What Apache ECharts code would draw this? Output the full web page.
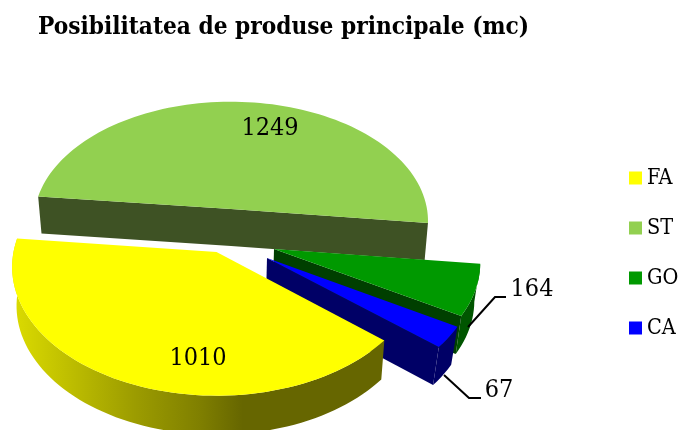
<!DOCTYPE html>
<html>
<head>
<meta charset="utf-8">
<style>html,body{margin:0;padding:0;background:#fff}#c{width:681px;height:430px}</style>
<script src="https://cdn.jsdelivr.net/npm/echarts@6/dist/echarts.min.js"></script>
</head>
<body>
<div id="c"></div>
<script>
var titleText = 'Posibilitatea de produse principale (mc)';
var categories = ['FA', 'ST', 'GO', 'CA'];
var values = [1010, 1249, 164, 67];
var topColors = ['#ffff00', '#92d050', '#009900', '#0000ff'];

// First slice starts here (degrees, clockwise on screen, 0 = right of the disc)
var startAngle = 40.1;
var serifFont = '"DejaVu Serif Condensed","DejaVu Serif",serif';

// Projection of each exploded slice: apex, disc radii, perspective, wall height, wall taper
var projection = {
  FA: { ax: 216.5, ay: 252, A: 203, B: 127, k: 0.116, H: 39, s: 0.98 },
  ST: { ax: 231, ay: 209, A: 196, B: 118, k: 0.10, H: 37, s: 0.983 },
  GO: { ax: 274, ay: 249, A: 205, B: 125, k: 0.11, H: 38, s: 0.976 },
  CA: { ax: 267, ay: 258, A: 208, B: 128, k: 0.115, H: 38, s: 0.972 }
};
var vanishX = 233;
var labelPos = { FA: [198, 358], ST: [270, 128], GO: [532, 289], CA: [499, 390] };
var leaders = {
  GO: [[468, 327], [495, 297], [506, 297]],
  CA: [[444, 375], [469, 398], [481, 398]]
};
var drawOrder = { ST: 1, GO: 2, CA: 3, FA: 4 };

var total = values.reduce(function (a, b) { return a + b; }, 0);

function angleRange(index, value) {
  var before = 0;
  for (var i = 0; i < index; i++) before += values[i];
  var a0 = startAngle + before / total * 360;
  return [a0, a0 + value / total * 360];
}
function pt(p, deg, lower) {
  var t = deg * Math.PI / 180;
  var w = 1 - p.k * Math.sin(t);
  var x = p.ax + p.A * Math.cos(t) / w;
  var y = p.ay + p.B * Math.sin(t) / w;
  return lower ? [vanishX + (x - vanishX) * p.s, y + p.H] : [x, y];
}
function apex(p, lower) {
  return lower ? [vanishX + (p.ax - vanishX) * p.s, p.ay + p.H] : [p.ax, p.ay];
}
function arc(p, a0, a1, lower) {
  var pts = [], n = Math.max(2, Math.ceil(Math.abs(a1 - a0) / 2));
  for (var i = 0; i <= n; i++) pts.push(pt(p, a0 + (a1 - a0) * i / n, lower));
  return pts;
}
function poly(points, fill) {
  return { type: 'polygon', shape: { points: points }, style: { fill: fill } };
}
function outerWall(p, a0, a1, fill) {
  return poly(arc(p, a0, a1, false).concat(arc(p, a1, a0, true)), fill);
}
function cutWall(p, deg, fill) {
  return poly([apex(p, false), pt(p, deg, false), pt(p, deg, true), apex(p, true)], fill);
}
function valueLabel(name, value) {
  return {
    type: 'text', x: labelPos[name][0], y: labelPos[name][1],
    style: { text: String(value), fill: '#000', fontFamily: serifFont, fontSize: 25, align: 'center', verticalAlign: 'middle' }
  };
}
var faWall = new echarts.graphic.LinearGradient(0, 0, 1, 0, [
  { offset: 0, color: '#dcdc00' }, { offset: 0.2, color: '#b5b500' },
  { offset: 0.33, color: '#9c9c00' }, { offset: 0.5, color: '#808000' },
  { offset: 0.62, color: '#666600' }, { offset: 1, color: '#666600' }
]);

function shapesFor(name, index, value) {
  var p = projection[name], r = angleRange(index, value), a0 = r[0], a1 = r[1], kids = [];
  var top = poly([apex(p, false)].concat(arc(p, a0, a1, false)), topColors[index]);
  if (name === 'FA') kids.push(outerWall(p, a0, a1, faWall));
  if (name === 'ST') { kids.push(cutWall(p, a0, '#3e5224')); kids.push(cutWall(p, a1, '#3e5224')); }
  if (name === 'GO') { kids.push(outerWall(p, a0, a1, '#005500')); kids.push(cutWall(p, a1, '#003f00')); }
  if (name === 'CA') { kids.push(outerWall(p, a0, a1, '#000066')); kids.push(cutWall(p, a1, '#000066')); }
  kids.push(top);
  if (leaders[name]) {
    kids.push({ type: 'polyline', shape: { points: leaders[name] }, style: { fill: 'none', stroke: '#000', lineWidth: 2 } });
  }
  kids.push(valueLabel(name, value));
  return { type: 'group', children: kids };
}

var series = categories.map(function (name, i) {
  return {
    name: name,
    type: 'custom',
    coordinateSystem: 'none',
    z: drawOrder[name],
    silent: true,
    itemStyle: { color: topColors[i] },
    data: [values[i]],
    renderItem: function (params, api) { return shapesFor(name, i, api.value(0)); }
  };
});

var chart = echarts.init(document.getElementById('c'), null, { renderer: 'canvas' });
chart.setOption({
  animation: false,
  backgroundColor: '#fff',
  title: {
    text: titleText, left: 38, top: 16, padding: 0,
    textStyle: { fontFamily: serifFont, fontWeight: 'bold', fontSize: 24.2, color: '#000' }
  },
  legend: {
    data: categories, orient: 'vertical', left: 629, top: 167, padding: 0,
    icon: 'rect', itemWidth: 13, itemHeight: 13, itemGap: 28,
    selectedMode: false,
    textStyle: { fontFamily: serifFont, fontSize: 21.5, color: '#000' }
  },
  series: series
});
</script>
</body>
</html>
